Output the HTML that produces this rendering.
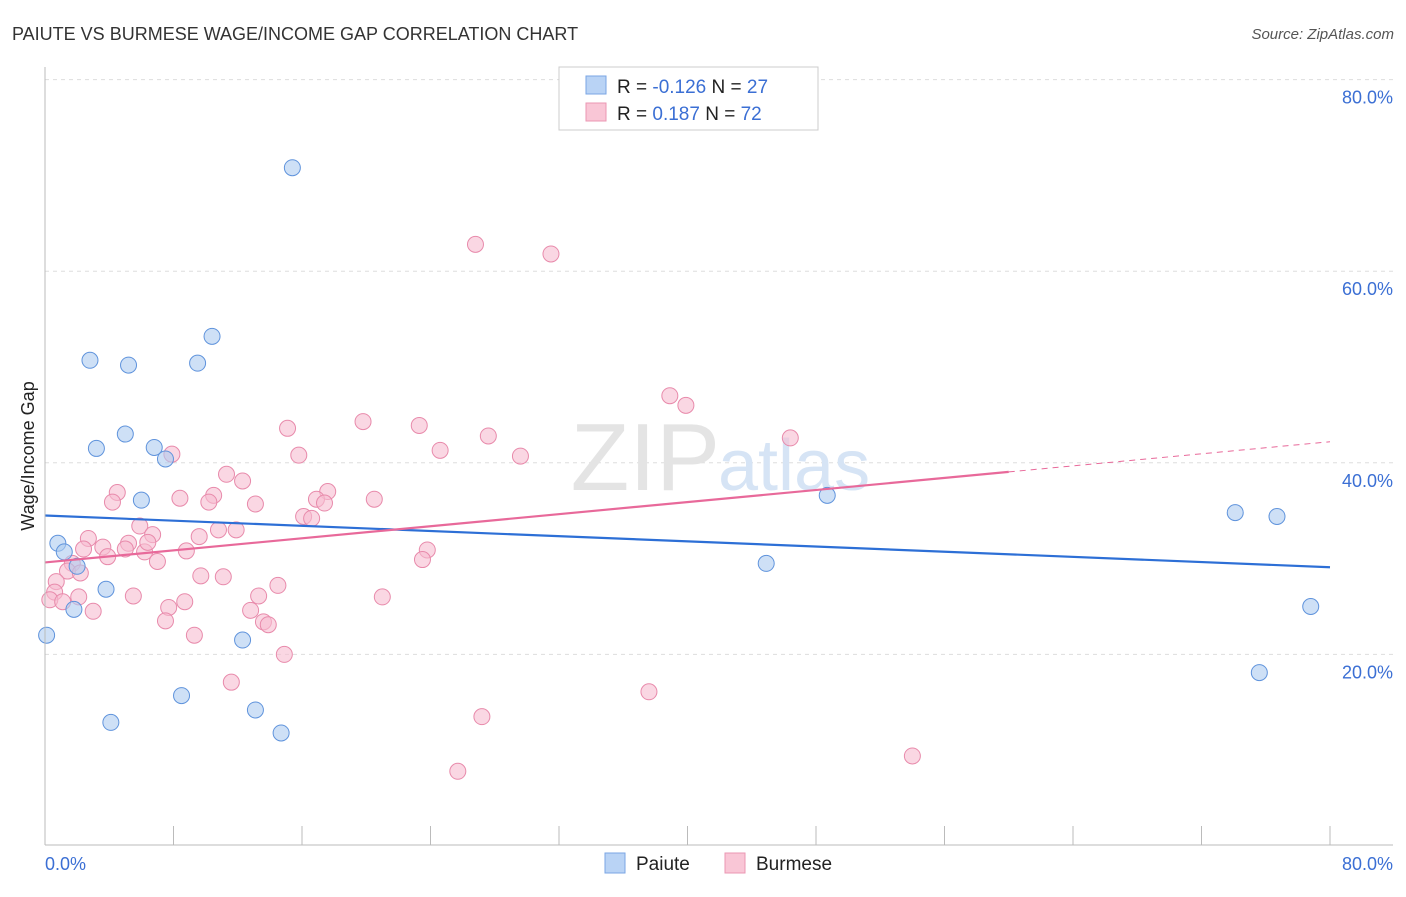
<!DOCTYPE html>
<html><head><meta charset="utf-8"><style>
body{margin:0;background:#fff;font-family:"Liberation Sans",sans-serif}
svg text{font-family:"Liberation Sans",sans-serif}
</style></head><body>
<svg width="1406" height="892" xmlns="http://www.w3.org/2000/svg">
<text x="12" y="40" font-size="18" fill="#333">PAIUTE VS BURMESE WAGE/INCOME GAP CORRELATION CHART</text>
<text x="1394" y="39" font-size="15" fill="#555" text-anchor="end" font-style="italic">Source: ZipAtlas.com</text>
<g id="grid"></g>
<text x="720" y="490" font-size="96" fill="#e4e4e4" text-anchor="end" font-family="Liberation Serif">ZIP</text>
<text x="718" y="490" font-size="72" fill="#d6e4f5">atlas</text>
<g id="marks"></g>
<line x1="45" y1="67" x2="45" y2="845" stroke="#bbb"/>
<line x1="45" y1="845" x2="1393" y2="845" stroke="#bbb"/>
<text x="45" y="870" font-size="18" fill="#3b6fd4">0.0%</text>
<text x="1393" y="870" font-size="18" fill="#3b6fd4" text-anchor="end">80.0%</text>
<text x="34" y="456" font-size="18" fill="#222" text-anchor="middle" transform="rotate(-90 34 456)">Wage/Income Gap</text>
<g>
<rect x="559" y="67" width="259" height="63" fill="#fff" stroke="#ccc"/>
<rect x="586" y="76" width="20" height="18" fill="#b9d3f5" stroke="#7aa6e4"/>
<rect x="586" y="103" width="20" height="18" fill="#f9c6d6" stroke="#eb97b3"/>
<text x="617" y="93" font-size="19" fill="#222">R = <tspan fill="#3b6fd4">-0.126</tspan>   N = <tspan fill="#3b6fd4">27</tspan></text>
<text x="617" y="120" font-size="19" fill="#222">R =   <tspan fill="#3b6fd4">0.187</tspan>   N = <tspan fill="#3b6fd4">72</tspan></text>
</g>
<g>
<rect x="605" y="853" width="20" height="20" fill="#b9d3f5" stroke="#7aa6e4"/>
<text x="636" y="870" font-size="19" fill="#222">Paiute</text>
<rect x="725" y="853" width="20" height="20" fill="#f9c6d6" stroke="#eb97b3"/>
<text x="756" y="870" font-size="19" fill="#222">Burmese</text>
</g>
</svg>
<script>
const yTicks=[20,40,60,80];
const xTicks=[0,8,16,24,32,40,48,56,64,72,80];
const paiuteX=[15.4,2.8,5.2,9.5,10.4,3.2,5.0,6.8,7.5,6.0,0.8,1.2,2.0,3.8,1.8,0.1,12.3,8.5,4.1,13.1,14.7,48.7,44.9,74.1,76.7,78.8,75.6];
const paiuteY=[70.8,50.7,50.2,50.4,53.2,41.5,43.0,41.6,40.4,36.1,31.6,30.7,29.2,26.8,24.7,22.0,21.5,15.7,12.9,14.2,11.8,36.6,29.5,34.8,34.4,25.0,18.1];
const burmeseX=[26.8,31.5,38.9,39.9,46.4,19.8,23.3,15.1,27.6,24.6,29.6,15.8,7.9,11.3,12.3,4.5,10.5,8.4,4.2,10.2,13.1,17.6,16.9,17.4,20.5,16.1,16.6,5.9,6.7,11.9,10.8,2.7,5.2,3.6,2.4,5.0,6.2,6.4,8.8,3.9,9.6,7.0,1.7,1.4,2.2,0.7,0.6,0.3,1.1,23.8,23.5,9.7,11.1,14.5,5.5,13.3,21.0,8.7,7.7,12.8,3.0,7.5,13.6,13.9,9.3,14.9,11.6,37.6,27.2,25.7,54.0,2.1];
const burmeseY=[62.8,61.8,47.0,46.0,42.6,44.3,43.9,43.6,42.8,41.3,40.7,40.8,40.9,38.8,38.1,36.9,36.6,36.3,35.9,35.9,35.7,37.0,36.2,35.8,36.2,34.4,34.2,33.4,32.5,33.0,33.0,32.1,31.6,31.2,31.0,31.0,30.7,31.7,30.8,30.2,32.3,29.7,29.5,28.7,28.5,27.6,26.5,25.7,25.5,30.9,29.9,28.2,28.1,27.2,26.1,26.1,26.0,25.5,24.9,24.6,24.5,23.5,23.4,23.1,22.0,20.0,17.1,16.1,13.5,7.8,9.4,26.0];
const paiuteTrend=[34.5,29.1];
const burmeseTrend=[29.6,42.2];
const X0=45,X1=1330,Y0=846,PXY=191.6/20;
function xs(v){return X0+(v/80)*(X1-X0);}
function ys(v){return Y0-v*PXY;}
const NS='http://www.w3.org/2000/svg';
const grid=document.getElementById('grid'),marks=document.getElementById('marks'),svg=document.querySelector('svg');
yTicks.forEach(t=>{
 const l=document.createElementNS(NS,'line');
 l.setAttribute('x1',45);l.setAttribute('x2',1393);l.setAttribute('y1',ys(t));l.setAttribute('y2',ys(t));
 l.setAttribute('stroke','#ddd');l.setAttribute('stroke-dasharray','4,4');
 
 
 grid.appendChild(l);
 const tx=document.createElementNS(NS,'text');
 tx.setAttribute('x',1393);tx.setAttribute('y',ys(t)+24);tx.setAttribute('text-anchor','end');
 tx.setAttribute('font-size','18');tx.setAttribute('fill','#3b6fd4');tx.textContent=t.toFixed(1)+'%';
 
 
 svg.appendChild(tx);
});
xTicks.forEach(t=>{
 const l=document.createElementNS(NS,'line');
 l.setAttribute('x1',xs(t));l.setAttribute('x2',xs(t));l.setAttribute('y1',826);l.setAttribute('y2',845);
 l.setAttribute('stroke','#bbb');
 
 
 grid.appendChild(l);
});
function dots(xa,ya,fill,stroke,name){
 xa.forEach((x,i)=>{
  const c=document.createElementNS(NS,'circle');
  c.setAttribute('cx',xs(x));c.setAttribute('cy',ys(ya[i]));c.setAttribute('r',8);
  c.setAttribute('fill',fill);c.setAttribute('fill-opacity','0.6');c.setAttribute('stroke',stroke);
  
  
  marks.appendChild(c);
 });
}
dots(burmeseX,burmeseY,'#f7bcd0','#e88aab','burmese-point');
dots(paiuteX,paiuteY,'#aecbf0','#5f93dc','paiute-point');
function line(x1,y1,x2,y2,col,dash,name){
 const l=document.createElementNS(NS,'line');
 l.setAttribute('x1',xs(x1));l.setAttribute('y1',ys(y1));l.setAttribute('x2',xs(x2));l.setAttribute('y2',ys(y2));
 l.setAttribute('stroke',col);l.setAttribute('stroke-width',dash?1:2.2);
 if(dash)l.setAttribute('stroke-dasharray','6,5');
 
 
 marks.appendChild(l);
}
line(0,paiuteTrend[0],80,paiuteTrend[1],'#2d6fd6',false,'paiute-trendline');
const bm=(v)=>burmeseTrend[0]+(burmeseTrend[1]-burmeseTrend[0])*v/80;
line(0,bm(0),60,bm(60),'#e8699a',false,'burmese-trendline');
line(60,bm(60),80,bm(80),'#e8699a',true,'burmese-trendline-extension');
</script>
</body></html>
